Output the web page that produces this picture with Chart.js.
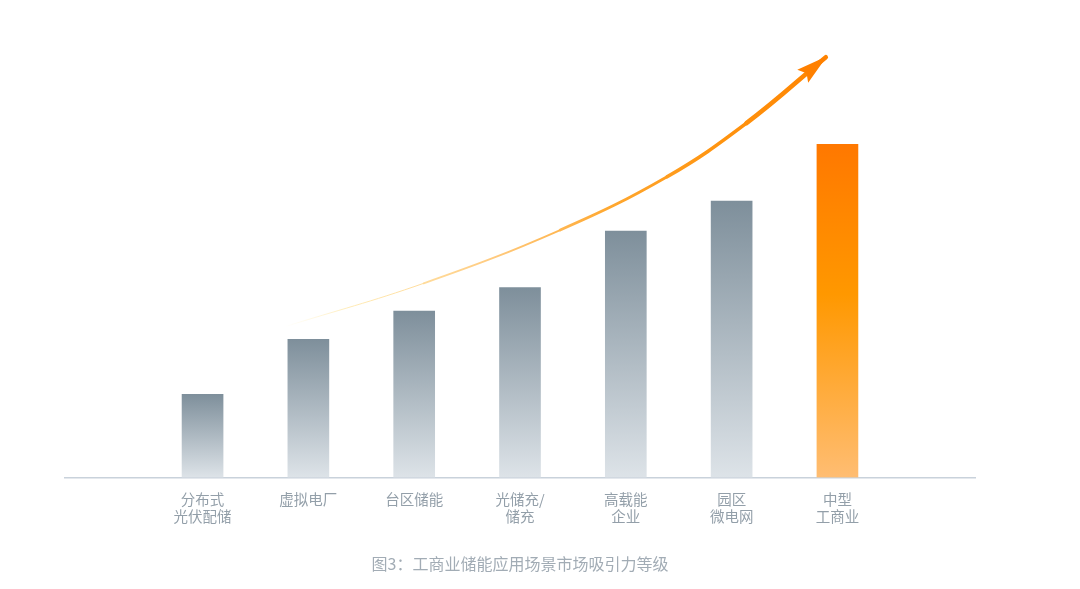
<!DOCTYPE html>
<html>
<head>
<meta charset="utf-8">
<script src="https://cdn.jsdelivr.net/npm/chart.js@4"></script>
<style>
html,body{margin:0;padding:0;background:#ffffff;}
#wrap{width:1080px;height:589px;position:relative;}
</style>
</head>
<body>
<div id="wrap"><canvas id="c"></canvas></div>
<script>
// ---- data ----
const categories = [
  ['分布式', '光伏配储'],
  ['虚拟电厂'],
  ['台区储能'],
  ['光储充/', '储充'],
  ['高载能', '企业'],
  ['园区', '微电网'],
  ['中型', '工商业']
];
const attractiveness = [2.5, 4.15, 5.0, 5.7, 7.4, 8.3, 10.0];
const highlightIndex = 6;
// trend arrow (in the chart's own data units: x = category index, y = value)
const trendX = [0.78, 2.09, 3.38, 4.39, 5.14, 5.89];
const trendY = [4.53, 5.83, 7.43, 9.03, 10.64, 12.62];
const caption = '图3：工商业储能应用场景市场吸引力等级';

const FONT = "'Noto Sans CJK SC', 'Noto Sans', sans-serif";

function barFill(c) {
  const chart = c.chart;
  if (!chart.chartArea || !c.raw) return '#9aa7b1';
  const ys = chart.scales.y;
  const top = ys.getPixelForValue(c.raw.y);
  const base = ys.getPixelForValue(0);
  const g = chart.ctx.createLinearGradient(0, top, 0, base);
  if (c.dataIndex === highlightIndex) {
    g.addColorStop(0, '#ff7800');
    g.addColorStop(0.45, '#ff9800');
    g.addColorStop(1, '#ffbd72');
  } else {
    g.addColorStop(0, '#7e8f9b');
    g.addColorStop(1, '#dde3e8');
  }
  return g;
}

function trendStroke(c) {
  const chart = c.chart;
  if (!chart.chartArea) return '#ffa020';
  const xs = chart.scales.x;
  const x0 = xs.getPixelForValue(trendX[0]);
  const x1 = xs.getPixelForValue(trendX[trendX.length - 1]);
  const g = chart.ctx.createLinearGradient(x0, 0, x1, 0);
  g.addColorStop(0, 'rgba(255,240,190,0)');
  g.addColorStop(0.12, 'rgba(255,232,170,0.85)');
  g.addColorStop(0.38, '#ffcb80');
  g.addColorStop(0.6, '#ffa830');
  g.addColorStop(0.8, '#ff9410');
  g.addColorStop(1, '#ff8400');
  return g;
}

const arrowHead = {
  id: 'arrowHead',
  afterDatasetsDraw(chart) {
    const meta = chart.getDatasetMeta(1);
    const pts = meta.data;
    if (!pts || pts.length < 2) return;
    const tip = pts[pts.length - 1];
    let ref = pts[pts.length - 2];
    if (Number.isFinite(tip.cp1x) && Number.isFinite(tip.cp1y) &&
        (tip.cp1x !== tip.x || tip.cp1y !== tip.y)) {
      ref = { x: tip.cp1x, y: tip.cp1y };
    }
    let dx = tip.x - ref.x, dy = tip.y - ref.y;
    const d = Math.hypot(dx, dy) || 1;
    dx /= d; dy /= d;
    const L = 30, W = 8.5, N = 5;
    const bx = tip.x - dx * L, by = tip.y - dy * L;
    const ctx = chart.ctx;
    ctx.save();
    ctx.fillStyle = '#ff8000';
    ctx.beginPath();
    ctx.moveTo(tip.x + dx * 1.5, tip.y + dy * 1.5);
    ctx.lineTo(bx - dy * W, by + dx * W);
    ctx.lineTo(tip.x - dx * (L - N), tip.y - dy * (L - N));
    ctx.lineTo(bx + dy * W, by - dx * W);
    ctx.closePath();
    ctx.fill();
    ctx.restore();
  }
};

new Chart(document.getElementById('c'), {
  type: 'bar',
  data: {
    datasets: [
      {
        type: 'bar',
        data: attractiveness.map((v, i) => ({ x: i, y: v })),
        backgroundColor: barFill,
        borderWidth: 0,
        barThickness: 41,
        order: 2
      },
      {
        type: 'line',
        data: trendX.map((x, i) => ({ x: x, y: trendY[i] })),
        borderColor: trendStroke,
        borderWidth: 3,
        borderCapStyle: 'round',
        borderJoinStyle: 'round',
        tension: 0.4,
        pointRadius: 0,
        pointHoverRadius: 0,
        fill: false,
        segment: {
          borderWidth: c => 1 + 3.5 * c.p0DataIndex / (trendX.length - 2)
        },
        order: 1
      }
    ]
  },
  options: {
    responsive: true,
    maintainAspectRatio: false,
    animation: false,
    events: [],
    layout: { padding: { left: 65, right: 105, top: 44.5, bottom: 0 } },
    plugins: {
      legend: { display: false },
      tooltip: { enabled: false },
      title: {
        display: true,
        position: 'bottom',
        text: caption,
        color: '#a2acb5',
        font: { family: FONT, size: 16, weight: 'normal', lineHeight: 1.2 },
        padding: { top: 0, bottom: 15.9 }
      }
    },
    scales: {
      x: {
        type: 'linear',
        min: -1.3,
        max: 7.3,
        offset: false,
        grid: { display: false, drawTicks: false },
        border: { display: true, color: '#c9d2db', width: 1.5 },
        afterBuildTicks: axis => { axis.ticks = categories.map((_, i) => ({ value: i })); },
        afterFit: axis => { axis.height = 76.4; },
        ticks: {
          autoSkip: false,
          maxRotation: 0,
          minRotation: 0,
          padding: 13,
          color: '#939fa9',
          font: { family: FONT, size: 14.5, lineHeight: 1.2 },
          callback: v => categories[v] || ''
        }
      },
      y: {
        display: false,
        min: 0,
        max: 13
      }
    }
  },
  plugins: [arrowHead]
});
</script>
</body>
</html>
